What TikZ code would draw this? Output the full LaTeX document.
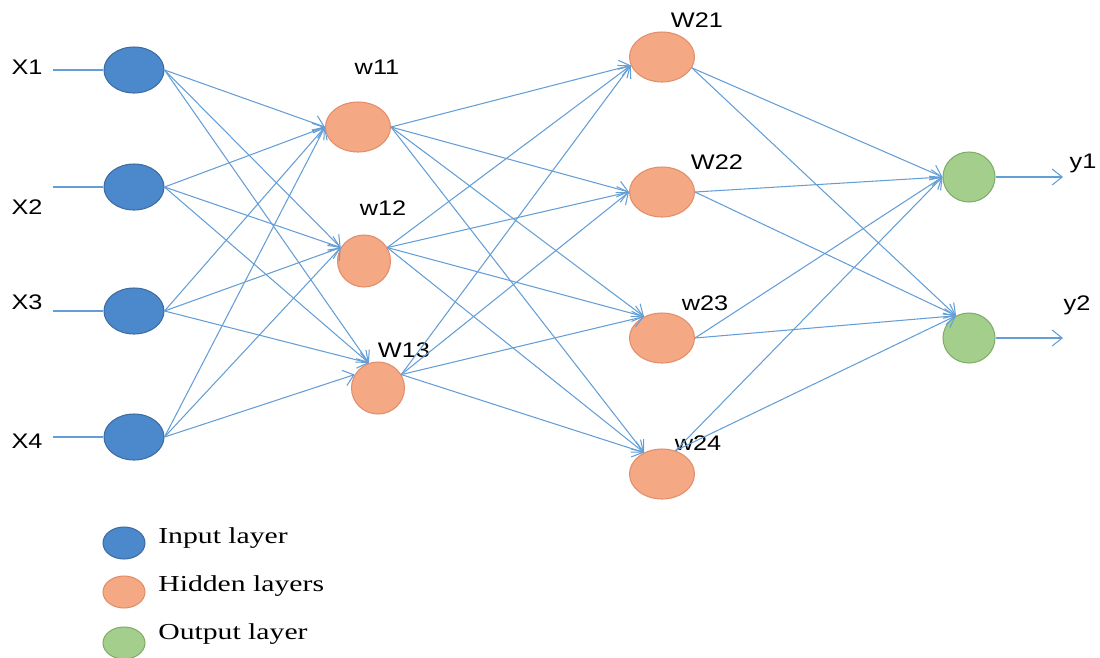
\documentclass[tikz,border=0pt]{standalone}
\usepackage{fontspec}
\setmainfont{Liberation Serif}
\newfontfamily\labelfont[FakeStretch=1.2]{Liberation Sans}
\newfontfamily\legendfont[FakeStretch=1.3]{Liberation Serif}
\usetikzlibrary{
  arrows.meta,
  positioning,
  shapes.geometric
}
\definecolor{inblue}{RGB}{76,136,204}
\definecolor{inedge}{RGB}{62,108,160}
\definecolor{hidorange}{RGB}{244,168,132}
\definecolor{hidedge}{RGB}{226,142,106}
\definecolor{outgreen}{RGB}{164,206,140}
\definecolor{outedge}{RGB}{128,172,104}
\definecolor{linkblue}{RGB}{100,158,214}

\begin{document}
\begin{tikzpicture}[
  x={(0.02cm,0)}, y={(0,-0.02cm)},
  neuron/.style={ellipse, draw, line width=0.6pt, inner sep=0pt},
  innode/.style={neuron, fill=inblue, draw=inedge, minimum width=1.2cm, minimum height=0.92cm},
  hidnode/.style={neuron, fill=hidorange, draw=hidedge, minimum width=1.3cm, minimum height=1.0cm},
  hidsmall/.style={hidnode, minimum width=1.06cm, minimum height=1.04cm},
  outnode/.style={neuron, fill=outgreen, draw=outedge, minimum width=1.04cm, minimum height=1.0cm},
  legdot/.style={neuron, minimum width=0.84cm, minimum height=0.64cm},
  lbl/.style={font=\labelfont\fontsize{12}{14}\selectfont, inner sep=0pt},
  legtxt/.style={font=\legendfont\fontsize{13}{15}\selectfont, anchor=west, inner sep=0pt},
  link/.style={linkblue, line width=0.6pt},
  arr/.style={link, -{Straight Barb[length=2mm, width=3.2mm]}}
]
\useasboundingbox (0,0) rectangle (1100,657);

% input layer
\node[innode] (x1) at (134,70) {};
\node[innode] (x2) at (134,187) {};
\node[innode] (x3) at (134,311) {};
\node[innode] (x4) at (134,437) {};

% first hidden layer
\node[hidnode] (h11) at (358,127) {};
\node[hidsmall] (h12) at (364,261) {};
\node[hidsmall] (h13) at (378,388) {};

% second hidden layer
\node[hidnode] (h21) at (662,57) {};
\node[hidnode] (h22) at (662,192) {};
\node[hidnode] (h23) at (662,338) {};
\node[hidnode] (h24) at (662,474) {};

% output layer
\node[outnode] (o1) at (969,177) {};
\node[outnode] (o2) at (969,338) {};

% labels
\node[lbl] (lx1) at (27,67) {X1};
\node[lbl] (lx2) at (27,207) {X2};
\node[lbl] (lx3) at (27,302) {X3};
\node[lbl] (lx4) at (27,441) {X4};
\node[lbl] (lh11) at (377,67) {w11};
\node[lbl] (lh12) at (383,208) {w12};
\node[lbl] (lh13) at (404,350) {W13};
\node[lbl] (lh21) at (697,20) {W21};
\node[lbl] (lh22) at (717,162) {W22};
\node[lbl] (lh23) at (705,303) {w23};
\node[lbl] (lh24) at (698,443) {w24};
\node[lbl] (ly1) at (1083,163) {y1};
\node[lbl] (ly2) at (1077,305) {y2};

% inputs and outputs
\coordinate (in1) at (53,70);
\coordinate (in2) at (53,187);
\coordinate (in3) at (53,311);
\coordinate (in4) at (53,437);
\coordinate (out1) at (1063,177);
\coordinate (out2) at (1063,338);
\draw[link] (in1) -- (x1.west);
\draw[link] (in2) -- (x2.west);
\draw[link] (in3) -- (x3.west);
\draw[link] (in4) -- (x4.west);
\draw[arr] (o1.east) -- (out1);
\draw[arr] (o2.east) -- (out2);

% input -> first hidden
\draw[arr] (x1.east) -- (h11.west);
\draw[arr] (x1.east) -- (h12.150);
\draw[arr] (x1.east) -- (h13.110);
\draw[arr] (x2.east) -- (h11.west);
\draw[arr] (x2.east) -- (h12.150);
\draw[arr] (x2.east) -- (h13.110);
\draw[arr] (x3.east) -- (h11.west);
\draw[arr] (x3.east) -- (h12.150);
\draw[arr] (x3.east) -- (h13.110);
\draw[arr] (x4.east) -- (h11.west);
\draw[arr] (x4.east) -- (h12.150);
\draw[arr] (x4.east) -- (h13.150);

% first hidden -> second hidden
\draw[arr] (h11.east) -- (h21.195);
\draw[arr] (h11.east) -- (h22.west);
\draw[arr] (h11.east) -- (h23.130);
\draw[arr] (h11.east) -- (h24.130);
\draw[arr] (h12.30) -- (h21.195);
\draw[arr] (h12.30) -- (h22.west);
\draw[arr] (h12.30) -- (h23.130);
\draw[arr] (h12.30) -- (h24.130);
\draw[arr] (h13.30) -- (h21.195);
\draw[arr] (h13.30) -- (h22.west);
\draw[arr] (h13.30) -- (h23.130);
\draw[arr] (h13.30) -- (h24.130);

% second hidden -> output
\draw[arr] (h21.-20) -- (o1.west);
\draw[arr] (h21.-20) -- (o2.120);
\draw[arr] (h22.east) -- (o1.west);
\draw[arr] (h22.east) -- (o2.120);
\draw[arr] (h23.east) -- (o1.west);
\draw[arr] (h23.east) -- (o2.120);
\draw[arr] (h24.60) -- (o1.west);
\draw[arr] (h24.60) -- (o2.120);

% Legend
\node[legdot, fill=inblue, draw=inedge] at (124,543) (leg0) {};
\node[legdot, fill=hidorange, draw=hidedge] at (124,592) (leg1) {};
\node[legdot, fill=outgreen, draw=outedge] at (124,643) (leg2) {};
\node[legtxt] at (158,538) (legt0) {Input layer};
\node[legtxt] at (158,586) (legt1) {Hidden layers};
\node[legtxt] at (158,634) (legt2) {Output layer};

\end{tikzpicture}
\end{document}
